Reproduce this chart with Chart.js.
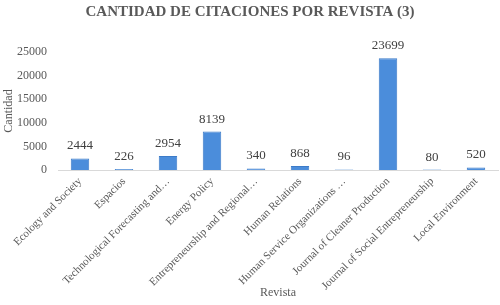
<!DOCTYPE html>
<html><head><meta charset="utf-8">
<script src="https://cdn.jsdelivr.net/npm/chart.js@4/dist/chart.umd.min.js"></script>
<style>html,body{margin:0;padding:0;background:#fff}#wrap{width:500px;height:305px}</style>
</head><body><div id="wrap"><canvas id="c"></canvas></div>
<script>
const categories = ["Ecology and Society","Espacios","Technological Forecasting and…","Energy Policy","Entrepreneurship and Regional…","Human Relations","Human Service Organizations …","Journal of Cleaner Production","Journal of Social Entrepreneurship","Local Environment"];
const citations = [2444,226,2954,8139,340,868,96,23699,80,520];
const yTicks = [0,5000,10000,15000,20000,25000];

const FONT = "'Liberation Serif','DejaVu Serif',serif";
const valueLabels = {
  id:'valueLabels',
  afterDatasetsDraw(chart){
    const ctx = chart.ctx;
    const meta = chart.getDatasetMeta(0);
    ctx.save();
    ctx.font = "13px " + FONT;
    ctx.fillStyle = '#404040';
    ctx.textAlign = 'center';
    ctx.textBaseline = 'bottom';
    meta.data.forEach((bar,i)=>{
      ctx.fillText(String(citations[i]), bar.x, bar.y - 6);
    });
    ctx.restore();
  }
};

new Chart(document.getElementById('c'),{
  type:'bar',
  data:{labels:categories,datasets:[{data:citations,backgroundColor:'#4b8ddb',borderColor:'#3c7bc8',borderWidth:1,categoryPercentage:0.84,barPercentage:0.5}]},
  options:{
    responsive:true,maintainAspectRatio:false,animation:false,
    layout:{padding:{left:2,right:2,top:0,bottom:5}},
    plugins:{
      legend:{display:false},tooltip:{enabled:false},
      title:{display:true,text:'CANTIDAD DE CITACIONES POR REVISTA (3)',color:'#595959',font:{family:FONT,size:15,weight:'bold'},padding:{top:3,bottom:31}}
    },
    scales:{
      x:{
        grid:{display:false,drawTicks:false},
        border:{display:true,color:'#d9d9d9'},
        ticks:{color:'#595959',font:{family:FONT,size:11},maxRotation:45,minRotation:45,autoSkip:false,padding:5},
        title:{display:true,text:'Revista',color:'#595959',font:{family:FONT,size:12},padding:{top:0,bottom:0}},
        afterFit(axis){axis.height = 130; axis.paddingLeft = 0; axis.paddingRight = 0;}
      },
      y:{
        min:0,max:25000,
        afterBuildTicks(axis){axis.ticks = yTicks.map(v=>({value:v}));},
        grid:{display:false,drawTicks:false},
        border:{display:false},
        ticks:{color:'#595959',font:{family:FONT,size:12},padding:11,callback:v=>String(v)},
        title:{display:true,text:'Cantidad',color:'#595959',font:{family:FONT,size:12},padding:{top:0,bottom:2}},
        afterFit(axis){axis.width = 56;}
      }
    }
  },
  plugins:[valueLabels]
});
</script></body></html>
